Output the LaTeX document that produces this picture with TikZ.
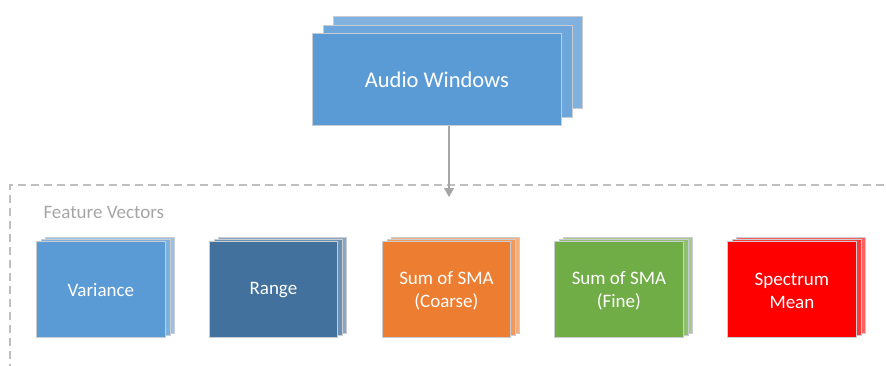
\documentclass[tikz,border=0pt]{standalone}
\usepackage{fontspec}
\setmainfont{Carlito}
\usetikzlibrary{arrows.meta}

\definecolor{skyblue}{HTML}{5B9BD5}
\definecolor{steelblue}{HTML}{41719C}
\definecolor{warmorange}{HTML}{ED7D31}
\definecolor{leafgreen}{HTML}{70AD47}
\definecolor{pure red}{HTML}{FF0000}
\definecolor{cardline}{HTML}{C9CDD2}
\definecolor{frameline}{HTML}{BFBFBF}
\definecolor{labelgray}{HTML}{A5A5A5}
\definecolor{arrowgray}{HTML}{A6A6A6}

\tikzset{
  x=1pt, y=-1pt,
  card/.style={draw=cardline, line width=0.8pt, inner sep=0pt, text=white,
    align=center, anchor=north west},
  bigtext/.style={font=\fontsize{22.5}{26}\selectfont},
  smalltext/.style={font=\fontsize{19}{23}\selectfont},
  flow/.style={draw=arrowgray, line width=1.2pt,
    -{Triangle[width=10pt,length=9pt]}},
  groupframe/.style={draw=frameline, line width=1.2pt, dash pattern=on 8pt off 5pt},
}

% tint of the two layers behind a front card (percent of the card colour)
\newcommand\midtint{80}
\newcommand\backtint{62}

% #1 name, #2 x, #3 y (top left of the front card), #4 width, #5 height,
% #6 colour, #7 dx, #8 dy of each layer behind, #9 text style
\newcommand\cardstack[9]{%
  \node[card, fill=#6!\backtint!white, minimum width=#4pt, minimum height=#5pt]
    (#1-back) at (#2+2*#7, #3-2*#8) {};
  \node[card, fill=#6!\midtint!white, minimum width=#4pt, minimum height=#5pt]
    (#1-mid) at (#2+#7, #3-#8) {};
  \node[card, fill=#6, minimum width=#4pt, minimum height=#5pt, #9]
    (#1) at (#2, #3) {};
}

\begin{document}
\begin{tikzpicture}
  \useasboundingbox (0,0) rectangle (886,365);

  % input stack
  \renewcommand\midtint{89}
  \renewcommand\backtint{77}
  \cardstack{windows}{312}{33}{249}{92}{skyblue}{10.5}{8.5}{bigtext}
  \node[bigtext, text=white] at (windows.center) {Audio Windows};

  % group of feature vectors
  \draw[groupframe] (10,372) -- (10,185) -- (892,185);
  \node[font=\fontsize{19}{23}\selectfont, text=labelgray, anchor=west] (grouplabel)
    at (40,212) {Feature Vectors};

  \coordinate (tip) at (449,197);
  \draw[flow] (windows.south -| tip) -- (tip);

  % feature cards
  \renewcommand\midtint{78}
  \renewcommand\backtint{62}
  \cardstack{variance}{36}{241}{129}{96}{skyblue}{4.5}{2.2}{smalltext}
  \cardstack{range}{209}{241}{128}{96}{steelblue}{4.5}{2.2}{smalltext}
  \cardstack{coarse}{382}{241}{128}{96}{warmorange}{4.5}{2.2}{smalltext}
  \cardstack{fine}{554}{241}{129}{96}{leafgreen}{4.5}{2.2}{smalltext}
  \cardstack{spectrum}{727}{241}{129}{96}{pure red}{4.5}{2.2}{smalltext}

  \node[smalltext, text=white, align=center] at ([yshift=-1pt]variance.center) {Variance};
  \node[smalltext, text=white, align=center] at ([yshift=-1pt]range.center) {Range};
  \node[smalltext, text=white, align=center] at ([yshift=-1pt]coarse.center) {Sum of SMA\\(Coarse)};
  \node[smalltext, text=white, align=center] at ([yshift=-1pt]fine.center) {Sum of SMA\\(Fine)};
  \node[smalltext, text=white, align=center] at ([yshift=-1pt]spectrum.center) {Spectrum\\Mean};
\end{tikzpicture}
\end{document}
